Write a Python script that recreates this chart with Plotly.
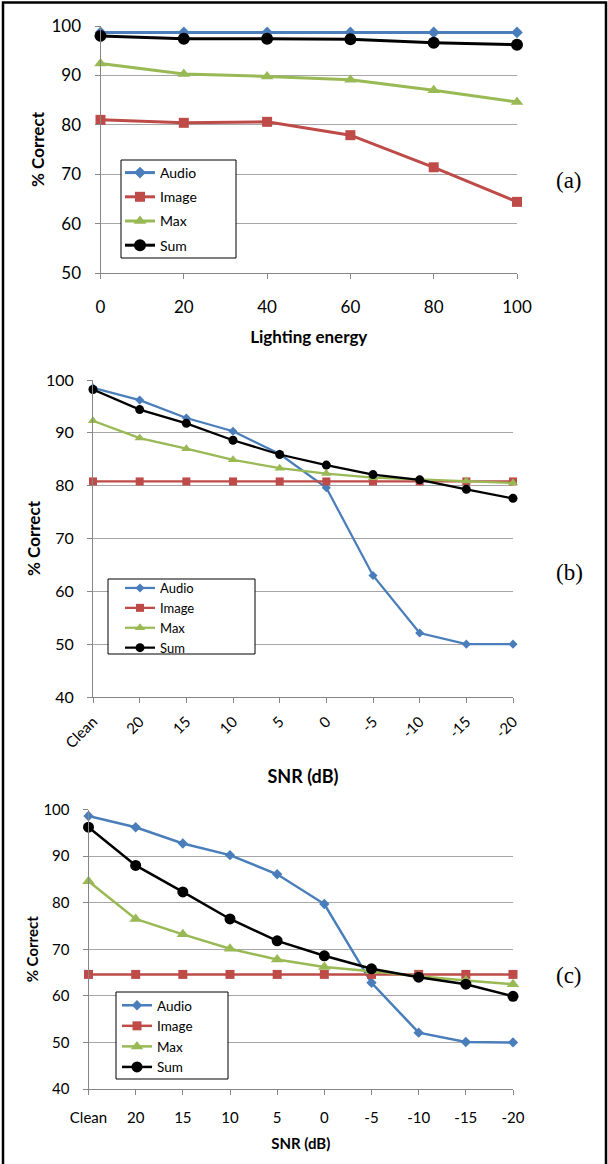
import plotly.graph_objects as go

W, H = 608, 1164

# ---------------- data ----------------
lighting = [0, 20, 40, 60, 80, 100]
a_audio = [98.7, 98.7, 98.7, 98.7, 98.7, 98.7]
a_image = [81.0, 80.4, 80.6, 77.9, 71.4, 64.4]
a_max = [92.4, 90.3, 89.8, 89.1, 87.0, 84.6]
a_sum = [98.0, 97.4, 97.4, 97.3, 96.6, 96.2]

snr = ["Clean", "20", "15", "10", "5", "0", "-5", "-10", "-15", "-20"]
b_audio = [98.5, 96.2, 92.8, 90.3, 86.0, 79.6, 63.0, 52.1, 50.0, 50.0]
b_image = [80.8, 80.8, 80.8, 80.8, 80.8, 80.8, 80.8, 80.8, 80.8, 80.8]
b_max = [92.3, 89.0, 87.0, 84.9, 83.3, 82.3, 81.5, 81.2, 80.9, 80.5]
b_sum = [98.2, 94.4, 91.8, 88.6, 85.9, 83.9, 82.1, 81.1, 79.3, 77.6]

c_audio = [98.6, 96.2, 92.7, 90.2, 86.1, 79.7, 62.8, 52.1, 50.1, 50.0]
c_image = [64.6, 64.6, 64.6, 64.6, 64.6, 64.6, 64.6, 64.6, 64.6, 64.6]
c_max = [84.6, 76.5, 73.2, 70.1, 67.8, 66.2, 65.3, 64.2, 63.3, 62.5]
c_sum = [96.2, 88.0, 82.3, 76.5, 71.8, 68.6, 65.8, 64.0, 62.5, 59.9]

series_names = ["Audio", "Image", "Max", "Sum"]
colors = ["#4A7EBB", "#BE4B48", "#98B954", "#000000"]
symbols = ["diamond", "square", "triangle-up", "circle"]

FONT = "Lato, Carlito, 'Liberation Sans', sans-serif"
SERIF = "'Liberation Serif', 'DejaVu Serif', serif"
GRID = "#a6a6a6"
LINE = "#868686"


def px_x(x):
    return x / W


def px_y(y):
    return 1 - y / H


fig = go.Figure()

panels = [
    dict(x=lighting, ys=[a_audio, a_image, a_max, a_sum], xa="x", ya="y", leg="legend",
         sizes=[9, 10, 11, 12], lw=3),
    dict(x=snr, ys=[b_audio, b_image, b_max, b_sum], xa="x2", ya="y2", leg="legend2",
         sizes=[7, 8, 9, 9], lw=2.25),
    dict(x=snr, ys=[c_audio, c_image, c_max, c_sum], xa="x3", ya="y3", leg="legend3",
         sizes=[8, 9, 11, 11], lw=2.5),
]

for p in panels:
    for i, name in enumerate(series_names):
        fig.add_trace(go.Scatter(
            x=p["x"], y=p["ys"][i], name=name, mode="lines+markers",
            xaxis=p["xa"], yaxis=p["ya"], legend=p["leg"],
            legendgroup=p["leg"] + name,
            line=dict(color=colors[i], width=p["lw"]),
            marker=dict(symbol=symbols[i], size=p["sizes"][i], color=colors[i]),
            cliponaxis=False,
        ))

common_x = dict(showgrid=False, showline=True, linecolor=LINE, linewidth=1,
                ticks="outside", ticklen=5, tickcolor=LINE, zeroline=False,
                automargin=False,
                tickfont=dict(family=FONT, color="#000"))
common_y = dict(showgrid=True, gridcolor=GRID, gridwidth=1, showline=True,
                linecolor=LINE, linewidth=1, ticks="outside", ticklen=5,
                tickcolor=LINE, zeroline=False, dtick=10, automargin=False,
                tickfont=dict(family=FONT, color="#000"))

fig.update_layout(
    template="none",
    width=W, height=H, autosize=False,
    margin=dict(l=0, r=0, t=0, b=0, pad=0, autoexpand=False),
    paper_bgcolor="white", plot_bgcolor="white",
    font=dict(family=FONT, color="#000"),
    xaxis=dict(common_x, domain=[px_x(100.5), px_x(517)], range=[0, 100],
               tickvals=lighting, anchor="y",
               tickfont=dict(family=FONT, size=17, color="#000"),
               ticklabelstandoff=14,
               title=dict(text="<b>Lighting energy</b>", font=dict(family=FONT, size=17),
                          standoff=14)),
    yaxis=dict(common_y, domain=[px_y(273), px_y(26)], range=[50, 100], anchor="x",
               tickfont=dict(family=FONT, size=17, color="#000"),
               ticklabelstandoff=10,
               title=dict(text="<b>% Correct</b>", font=dict(family=FONT, size=17),
                          standoff=2)),
    xaxis2=dict(common_x, type="category", domain=[px_x(93), px_x(513)], range=[0, 9],
                anchor="y2", tickangle=-45,
                tickfont=dict(family=FONT, size=15, color="#000"),
                ticklabelstandoff=4,
                title=dict(text="<b>SNR (dB)</b>", font=dict(family=FONT, size=18),
                           standoff=20)),
    yaxis2=dict(common_y, domain=[px_y(697), px_y(380)], range=[40, 100], anchor="x2",
                tickfont=dict(family=FONT, size=16, color="#000"),
                ticklabelstandoff=10,
                title=dict(text="<b>% Correct</b>", font=dict(family=FONT, size=17),
                           standoff=1)),
    xaxis3=dict(common_x, type="category", domain=[px_x(88.5), px_x(513)], range=[0, 9],
                anchor="y3", tickangle=0,
                tickfont=dict(family=FONT, size=15, color="#000"),
                ticklabelstandoff=10,
                title=dict(text="<b>SNR (dB)</b>", font=dict(family=FONT, size=15),
                           standoff=13)),
    yaxis3=dict(common_y, domain=[px_y(1089), px_y(809.5)], range=[40, 100], anchor="x3",
                tickfont=dict(family=FONT, size=15, color="#000"),
                ticklabelstandoff=10,
                title=dict(text="<b>% Correct</b>", font=dict(family=FONT, size=15),
                           standoff=1)),
    legend=dict(x=px_x(120), y=px_y(157), xanchor="left", yanchor="top",
                bgcolor="rgba(0,0,0,0)", borderwidth=0, tracegroupgap=3,
                font=dict(family=FONT, size=14, color="#000")),
    legend2=dict(x=px_x(120), y=px_y(573), xanchor="left", yanchor="top",
                 bgcolor="rgba(0,0,0,0)", borderwidth=0, tracegroupgap=0,
                 font=dict(family=FONT, size=13, color="#000")),
    legend3=dict(x=px_x(117), y=px_y(990), xanchor="left", yanchor="top",
                 bgcolor="rgba(0,0,0,0)", borderwidth=0, tracegroupgap=0,
                 font=dict(family=FONT, size=13.5, color="#000")),
    showlegend=True,
)

# legend boxes (white, bordered) and outer frame
boxes = [(121, 160, 236, 258), (108, 579, 255, 654), (116, 992, 228, 1079)]
for x0, y0, x1, y1 in boxes:
    fig.add_shape(type="rect", xref="paper", yref="paper",
                  x0=px_x(x0), x1=px_x(x1), y0=px_y(y1), y1=px_y(y0),
                  fillcolor="white", line=dict(color="#000", width=1), layer="above")

fig.add_shape(type="rect", xref="paper", yref="paper",
              x0=px_x(3), x1=px_x(606), y0=px_y(1170), y1=px_y(2.5),
              line=dict(color="#000", width=2.5), layer="above")

for lab, yc in [("(a)", 180), ("(b)", 572), ("(c)", 975)]:
    fig.add_annotation(text=lab, xref="paper", yref="paper", x=px_x(569), y=px_y(yc),
                       xanchor="center", yanchor="middle", showarrow=False,
                       font=dict(family=SERIF, size=23, color="#000"))

fig.write_html("out.html",
               config={"displayModeBar": False},
               post_script="document.body.style.margin='0';document.body.style.overflow='hidden';")
